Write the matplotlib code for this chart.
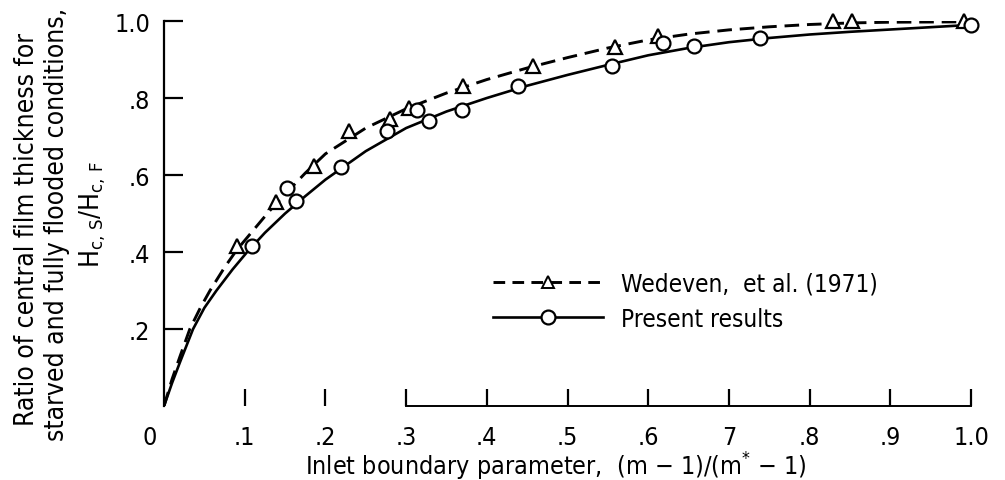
import matplotlib #plotting library
matplotlib.use('Agg') #no display
import matplotlib.pyplot as plt #plotting functions
from matplotlib.lines import Line2D #for legend handles

plt.rcParams['font.family'] = ['DejaVu Sans'] #the condensed cut is close to the report's typeface
plt.rcParams['font.stretch'] = 'condensed'
plt.rcParams['mathtext.fontset'] = 'custom'
plt.rcParams['mathtext.rm'] = 'DejaVu Sans:stretch=condensed'
plt.rcParams['mathtext.it'] = 'DejaVu Sans:stretch=condensed'

# Wedeven et al. (1971) points (triangles)
wed_x = [0.09, 0.139, 0.186, 0.229, 0.280, 0.304, 0.371, 0.457, 0.559, 0.612, 0.829, 0.853, 0.991]
wed_y = [0.416, 0.53, 0.623, 0.714, 0.745, 0.774, 0.83, 0.883, 0.933, 0.961, 1.0, 1.0, 1.0]
# present results points (circles)
pres_x = [0.109, 0.153, 0.164, 0.219, 0.276, 0.313, 0.328, 0.369, 0.439, 0.555, 0.618, 0.657, 0.739, 1.0]
pres_y = [0.415, 0.566, 0.532, 0.622, 0.714, 0.768, 0.741, 0.770, 0.830, 0.884, 0.943, 0.935, 0.955, 0.99]

# faired curves
wed_cx = [0, 0.01, 0.02, 0.032, 0.045, 0.057, 0.075, 0.09, 0.11, 0.13, 0.15, 0.175, 0.2, 0.25, 0.3, 0.35, 0.4, 0.45, 0.5, 0.55, 0.6, 0.65, 0.7, 0.75, 0.8, 0.85, 0.9, 1.0]
wed_cy = [0, 0.07, 0.13, 0.2, 0.255, 0.3, 0.36, 0.405, 0.455, 0.505, 0.55, 0.605, 0.655, 0.722, 0.772, 0.813, 0.848, 0.878, 0.905, 0.93, 0.951, 0.966, 0.977, 0.985, 0.991, 0.995, 0.997, 0.998]
pres_cx = [0, 0.01, 0.02, 0.036, 0.05, 0.065, 0.085, 0.103, 0.125, 0.15, 0.175, 0.2, 0.25, 0.3, 0.35, 0.4, 0.45, 0.5, 0.55, 0.6, 0.65, 0.7, 0.75, 0.8, 0.85, 0.9, 0.95, 1.0]
pres_cy = [0, 0.06, 0.115, 0.2, 0.255, 0.3, 0.355, 0.4, 0.45, 0.5, 0.545, 0.588, 0.662, 0.722, 0.765, 0.8, 0.832, 0.86, 0.886, 0.911, 0.93, 0.945, 0.956, 0.965, 0.972, 0.978, 0.984, 0.99]

xticks = [0.1, 0.2, 0.3, 0.4, 0.5, 0.6, 0.7, 0.8, 0.9, 1.0]
xticklabels = ['.1', '.2', '.3', '.4', '.5', '.6', '7', '.8', '.9', '1.0']
yticks = [0.2, 0.4, 0.6, 0.8, 1.0]
yticklabels = ['.2', '.4', '.6', '.8', '1.0']

fig = plt.figure(figsize=(10.05, 4.81), dpi=100)
ax = fig.add_axes([0.1632, 0.1538, 0.803, 0.8004])

dash = (0, (5, 2.7)) #long dashes
ax.plot(wed_cx, wed_cy, color='k', lw=2.1, linestyle=dash, zorder=2)
ax.plot(pres_cx, pres_cy, color='k', lw=1.9, zorder=2)
ax.plot(wed_x, wed_y, '^', ms=10, mfc='white', mec='k', mew=1.6, zorder=3, clip_on=False)
ax.plot(pres_x, pres_y, 'o', ms=10, mfc='white', mec='k', mew=1.6, zorder=3, clip_on=False)

ax.set_xlim(0, 1)
ax.set_ylim(0, 1)
ax.spines['top'].set_visible(False)
ax.spines['right'].set_visible(False)
ax.spines['left'].set_linewidth(1.6)
ax.spines['bottom'].set_linewidth(1.4)
ax.spines['bottom'].set_bounds(0.3, 1.0) #baseline only shows on the right part
ax.set_xticks(xticks)
ax.set_xticklabels(xticklabels)
ax.set_yticks(yticks)
ax.set_yticklabels(yticklabels)
ax.tick_params(axis='x', direction='in', length=12, width=1.6, pad=14, labelsize=18)
ax.tick_params(axis='y', direction='in', length=13.5, width=1.6, pad=10, labelsize=18)
ax.annotate('0', xy=(0, 0), xytext=(-10, -22), textcoords='offset points', ha='center', va='center', fontsize=18)

ax.set_xlabel('Inlet boundary parameter,  (m \u2212 1)/(m$^{*}$ \u2212 1)', fontsize=18, labelpad=0, x=0.486)

fig.text(0.027, 0.522, 'Ratio of central film thickness for', rotation=90, ha='center', va='center', fontsize=19)
fig.text(0.057, 0.534, 'starved and fully flooded conditions,', rotation=90, ha='center', va='center', fontsize=19)
fig.text(0.092, 0.553, '$\\mathrm{H_{c,\\,S}/H_{c,\\,F}}$', rotation=90, ha='center', va='center', fontsize=19)

h1 = Line2D([], [], color='k', lw=2.1, linestyle=(0, (4, 2.5)), marker='^', ms=9, mfc='white', mec='k', mew=1.4)
h2 = Line2D([], [], color='k', lw=1.9, marker='o', ms=10, mfc='white', mec='k', mew=1.6)
ax.legend([h1, h2], ['Wedeven,  et al. (1971)', 'Present results'], loc='upper left',
          bbox_to_anchor=(0.381, 0.405), frameon=False, fontsize=17.5, handlelength=4.5,
          handletextpad=0.75, labelspacing=0.45, numpoints=1)

plt.savefig('out.png') #save figure
